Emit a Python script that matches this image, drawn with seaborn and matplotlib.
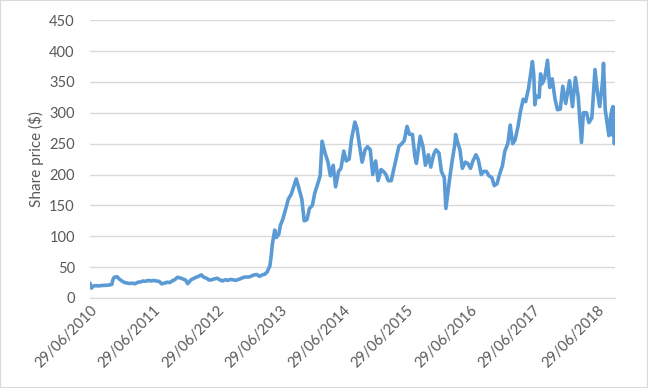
import matplotlib
matplotlib.use("Agg")
import matplotlib.pyplot as plt
from matplotlib.patches import Rectangle
import pandas as pd
import seaborn as sns

dates = [
    "2010-06-29", "2010-07-01", "2010-07-07", "2010-07-15", "2010-08-01", "2010-08-15",
    "2010-09-01", "2010-09-15", "2010-10-01", "2010-10-15", "2010-11-01", "2010-11-08",
    "2010-11-15", "2010-12-01", "2010-12-15",
    "2011-01-01", "2011-01-15", "2011-02-01", "2011-02-15", "2011-03-01", "2011-03-15",
    "2011-04-01", "2011-04-15", "2011-05-01", "2011-05-15", "2011-06-01", "2011-06-15",
    "2011-07-01", "2011-07-15", "2011-08-01", "2011-08-15", "2011-09-01", "2011-09-15",
    "2011-10-01", "2011-10-15", "2011-11-01", "2011-11-15", "2011-12-01", "2011-12-15",
    "2012-01-01", "2012-01-13", "2012-02-01", "2012-02-15", "2012-03-01", "2012-03-15",
    "2012-04-01", "2012-04-15", "2012-05-01", "2012-05-15", "2012-06-01", "2012-06-15",
    "2012-07-01", "2012-07-15", "2012-08-01", "2012-08-15", "2012-09-01", "2012-09-15",
    "2012-10-01", "2012-10-15", "2012-11-01", "2012-11-15", "2012-12-01", "2012-12-15",
    "2013-01-01", "2013-01-15", "2013-02-01", "2013-02-15", "2013-03-01", "2013-03-15",
    "2013-04-01", "2013-04-15", "2013-05-01", "2013-05-09", "2013-05-15", "2013-05-29",
    "2013-06-07", "2013-06-21", "2013-07-01", "2013-07-15", "2013-08-01", "2013-08-15",
    "2013-09-01", "2013-09-15", "2013-09-30", "2013-10-15", "2013-11-01", "2013-11-15",
    "2013-12-01", "2013-12-15",
    "2014-01-01", "2014-01-15", "2014-02-01", "2014-02-15", "2014-02-26", "2014-03-15",
    "2014-04-01", "2014-04-15", "2014-05-01", "2014-05-15", "2014-06-01", "2014-06-15",
    "2014-07-01", "2014-07-15", "2014-08-01", "2014-08-15", "2014-09-03", "2014-09-15",
    "2014-10-01", "2014-10-15", "2014-11-01", "2014-11-15", "2014-12-01", "2014-12-15",
    "2015-01-01", "2015-01-15", "2015-02-01", "2015-02-15", "2015-03-01", "2015-03-15",
    "2015-04-01", "2015-04-15", "2015-05-01", "2015-05-15", "2015-06-01", "2015-06-15",
    "2015-07-01", "2015-07-15", "2015-08-01", "2015-08-15", "2015-08-24", "2015-09-15",
    "2015-10-01", "2015-10-15", "2015-11-01", "2015-11-15", "2015-12-01", "2015-12-15",
    "2016-01-01", "2016-01-15", "2016-02-01", "2016-02-10", "2016-03-01", "2016-03-15",
    "2016-04-01", "2016-04-06", "2016-04-15", "2016-05-01", "2016-05-15", "2016-06-01",
    "2016-06-15", "2016-07-01", "2016-07-15", "2016-08-01", "2016-08-15", "2016-09-01",
    "2016-09-15", "2016-10-01", "2016-10-15", "2016-11-01", "2016-11-15", "2016-12-01",
    "2016-12-15",
    "2017-01-01", "2017-01-15", "2017-02-01", "2017-02-15", "2017-03-01", "2017-03-15",
    "2017-04-01", "2017-04-15", "2017-05-01", "2017-05-15", "2017-06-01", "2017-06-23",
    "2017-07-01", "2017-07-07", "2017-07-15", "2017-08-01", "2017-08-09", "2017-08-18",
    "2017-09-01", "2017-09-18", "2017-10-01", "2017-10-15", "2017-11-01", "2017-11-15",
    "2017-12-01", "2017-12-15",
    "2018-01-01", "2018-01-23", "2018-02-09", "2018-02-26", "2018-03-14", "2018-04-02",
    "2018-04-13", "2018-05-01", "2018-05-15", "2018-06-01", "2018-06-19", "2018-07-02",
    "2018-07-16", "2018-08-01", "2018-08-07", "2018-08-17", "2018-09-07", "2018-09-17",
    "2018-09-27", "2018-09-28", "2018-10-01", "2018-10-08", "2018-10-12",
]

prices = [
    23.9, 21.5, 16.0, 19.0, 20.0, 19.5,
    20.0, 20.5, 20.5, 21.0, 21.8, 30.0,
    33.5, 34.5, 30.5,
    27.0, 25.0, 24.0, 23.5, 24.0, 23.0,
    25.5, 26.0, 27.5, 27.0, 28.5, 27.5,
    28.5, 27.5, 27.0, 23.0, 24.0, 25.5,
    25.0, 27.5, 30.0, 33.5, 32.5, 31.0,
    29.0, 23.0, 29.5, 31.5, 33.5, 35.0,
    37.5, 33.5, 32.0, 29.0, 29.5, 31.0,
    32.0, 29.5, 27.5, 29.5, 28.5, 30.0,
    29.5, 28.5, 30.0, 31.5, 33.5, 34.0,
    34.0, 35.5, 37.5, 38.0, 35.0, 37.0,
    38.5, 42.0, 52.0, 69.0, 87.0, 110.0,
    98.0, 103.0, 118.0, 128.0, 145.0, 160.0,
    168.0, 180.0, 193.0, 178.0, 160.0, 125.0,
    127.0, 145.0,
    150.0, 170.0, 185.0, 198.0, 254.0, 235.0,
    220.0, 198.0, 215.0, 180.0, 205.0, 210.0,
    238.0, 222.0, 225.0, 258.0, 285.0, 275.0,
    245.0, 220.0, 240.0, 245.0, 240.0, 200.0,
    222.0, 190.0, 208.0, 205.0, 200.0, 190.0,
    190.0, 208.0, 228.0, 246.0, 250.0, 255.0,
    278.0, 265.0, 265.0, 230.0, 218.0, 262.0,
    245.0, 215.0, 232.0, 212.0, 232.0, 240.0,
    235.0, 205.0, 195.0, 145.0, 190.0, 218.0,
    248.0, 265.0, 255.0, 240.0, 210.0, 220.0,
    218.0, 210.0, 222.0, 232.0, 224.0, 200.0,
    205.0, 205.0, 198.0, 195.0, 182.0, 185.0,
    200.0,
    214.0, 238.0, 250.0, 280.0, 250.0, 256.0,
    278.0, 302.0, 322.0, 318.0, 340.0, 383.0,
    361.0, 313.0, 327.0, 325.0, 363.0, 347.0,
    355.0, 385.0, 341.0, 355.0, 321.0, 305.0,
    306.0, 343.0,
    315.0, 352.0, 310.0, 357.0, 326.0, 252.0,
    300.0, 300.0, 284.0, 292.0, 370.0, 335.0,
    310.0, 349.0, 380.0, 305.0, 263.0, 294.0,
    307.0, 264.0, 310.0, 250.0, 258.0,
]

tick_dates = ["2010-06-29", "2011-06-29", "2012-06-29", "2013-06-29", "2014-06-29",
              "2015-06-29", "2016-06-29", "2017-06-29", "2018-06-29"]
tick_labels = ["29/06/2010", "29/06/2011", "29/06/2012", "29/06/2013", "29/06/2014",
               "29/06/2015", "29/06/2016", "29/06/2017", "29/06/2018"]
y_ticks = [0, 50, 100, 150, 200, 250, 300, 350, 400, 450]

df = pd.DataFrame({"date": pd.to_datetime(dates), "price": prices})

sns.set_style("white")
plt.rcParams["font.family"] = ["Lato", "DejaVu Sans"]

fig = plt.figure(figsize=(6.48, 3.88), dpi=100)
ax = fig.add_axes([0.139, 0.232, 0.810, 0.716])

sns.lineplot(data=df, x="date", y="price", ax=ax, color="#5B9BD5", linewidth=2.6)

ax.set_ylim(0, 450)
ax.set_yticks(y_ticks)
ax.set_xlim(df["date"].iloc[0], df["date"].iloc[-1])
ax.set_xticks(pd.to_datetime(tick_dates))
ax.set_xticklabels(tick_labels, rotation=45, ha="right", rotation_mode="anchor")

ax.grid(axis="y", color="#D9D9D9", linewidth=1)
ax.set_axisbelow(True)
for s in ["top", "right", "left"]:
    ax.spines[s].set_visible(False)
ax.spines["bottom"].set_color("#D9D9D9")
ax.tick_params(axis="both", length=0, labelsize=10.5, colors="#595959")
ax.tick_params(axis="y", pad=11)
ax.tick_params(axis="x", pad=4)

ax.set_xlabel("")
ax.set_ylabel("Share price ($)", fontsize=11, color="#595959", labelpad=4)

fig.patches.append(Rectangle((0, 0), 1, 1, transform=fig.transFigure, fill=False,
                             edgecolor="#D9D9D9", linewidth=1.5))

fig.savefig("out.png", dpi=100)
